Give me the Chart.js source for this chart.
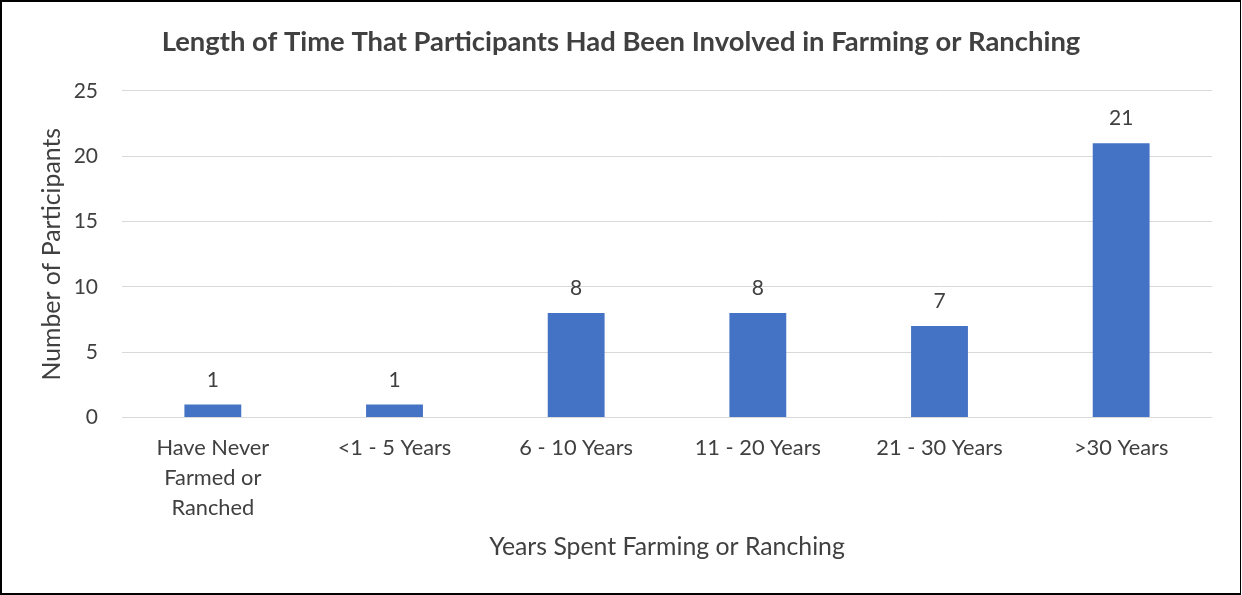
<!DOCTYPE html>
<html>
<head>
<meta charset="utf-8">
<script src="https://cdn.jsdelivr.net/npm/chart.js@4.4.1/dist/chart.umd.min.js"></script>
<style>
  html, body { margin: 0; padding: 0; background: #fff; }
  #wrap { position: relative; width: 1242px; height: 595px; }
  #frame {
    position: absolute; left: 0; top: 0; width: 1241px; height: 595px;
    box-sizing: border-box; pointer-events: none;
    border-left: 2px solid #000; border-top: 2px solid #000;
    border-bottom: 2px solid #000; border-right: 1px solid #000;
  }
  canvas { position: absolute; left: 0; top: 0; }
</style>
</head>
<body>
<div id="wrap">
  <canvas id="chart" width="1242" height="595"></canvas>
  <div id="frame"></div>
</div>
<script>
// Survey responses: years each participant has spent farming or ranching
const categories = [
  ['Have Never', 'Farmed or', 'Ranched'],
  '<1 - 5 Years',
  '6 - 10 Years',
  '11 - 20 Years',
  '21 - 30 Years',
  '>30 Years'
];
const participants = [1, 1, 8, 8, 7, 21];
const yTicks = [0, 5, 10, 15, 20, 25];

const FONT = 'Lato, "Open Sans", sans-serif';
const TEXT = '#404040';

// Writes each bar's count just above it
const barValueLabels = {
  id: 'barValueLabels',
  afterDatasetsDraw(chart) {
    const ctx = chart.ctx;
    const meta = chart.getDatasetMeta(0);
    ctx.save();
    ctx.font = '21px ' + FONT;
    ctx.fillStyle = TEXT;
    ctx.textAlign = 'center';
    ctx.textBaseline = 'middle';
    meta.data.forEach((bar, i) => {
      ctx.fillText(String(participants[i]), bar.x, bar.y - 24.5);
    });
    ctx.restore();
  }
};

new Chart(document.getElementById('chart'), {
  type: 'bar',
  data: {
    labels: categories,
    datasets: [{
      data: participants,
      backgroundColor: '#4472C4',
      borderWidth: 0,
      categoryPercentage: 1,
      barPercentage: 0.313
    }]
  },
  options: {
    responsive: false,
    animation: false,
    devicePixelRatio: 1,
    layout: { padding: { left: 30, right: 30, top: 0, bottom: 0 } },
    plugins: {
      legend: { display: false },
      tooltip: { enabled: false },
      title: {
        display: true,
        text: 'Length of Time That Participants Had Been Involved in Farming or Ranching',
        color: TEXT,
        font: { family: FONT, size: 27.4, weight: 'bold', lineHeight: 1.2 },
        padding: { top: 26, bottom: 32 }
      }
    },
    scales: {
      x: {
        grid: { display: false },
        border: { display: false },
        ticks: {
          color: TEXT,
          font: { family: FONT, size: 21.8, lineHeight: 1.36 },
          padding: 8,
          maxRotation: 0,
          autoSkip: false
        },
        title: {
          display: true,
          text: 'Years Spent Farming or Ranching',
          color: TEXT,
          font: { family: FONT, size: 24.8, lineHeight: 1.2 },
          padding: { top: 33, bottom: 33 }
        },
        afterFit(scale) { scale.height = 177.5; }
      },
      y: {
        min: 0,
        max: 25,
        afterBuildTicks(scale) { scale.ticks = yTicks.map(v => ({ value: v })); },
        grid: { color: '#D9D9D9', lineWidth: 1, drawTicks: false },
        border: { display: false },
        ticks: {
          color: TEXT,
          font: { family: FONT, size: 21 },
          padding: 24
        },
        title: {
          display: true,
          text: 'Number of Participants',
          color: TEXT,
          font: { family: FONT, size: 24.8, lineHeight: 1.2 },
          padding: { top: 7, bottom: 7 }
        },
        afterFit(scale) { scale.width = 92; }
      }
    }
  },
  plugins: [barValueLabels]
});
</script>
</body>
</html>
